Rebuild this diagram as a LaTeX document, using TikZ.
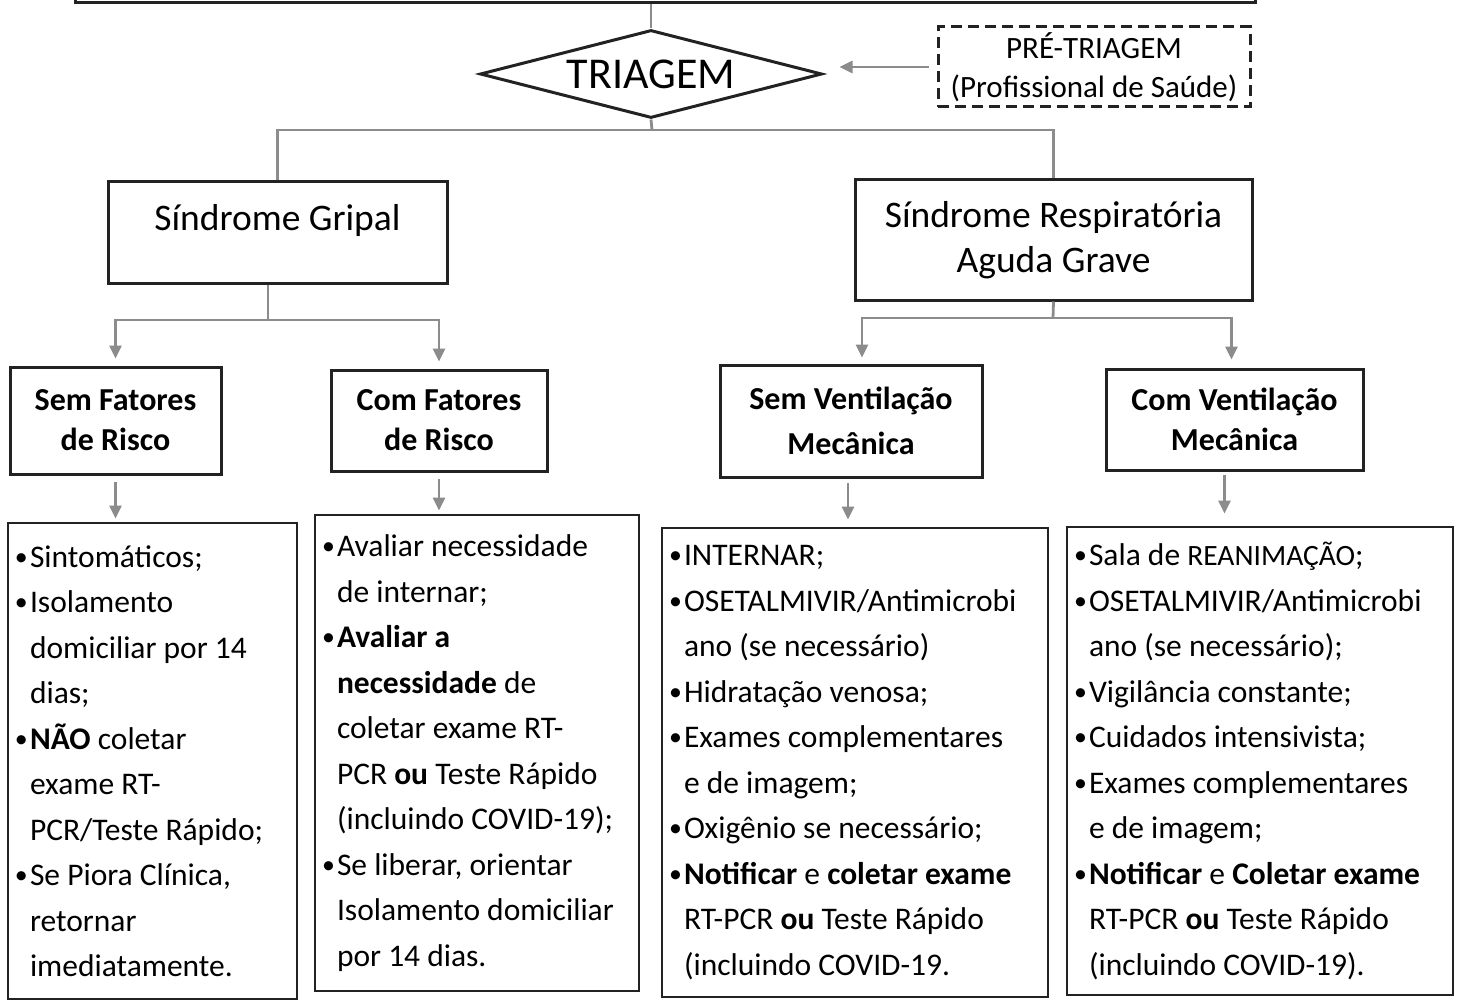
\documentclass[tikz,border=0pt]{standalone}
\usepackage{fontspec}
\setmainfont{Carlito}
\usepackage{graphicx}
\usepackage{tikz}
\usetikzlibrary{arrows.meta, positioning, shapes.geometric}

\definecolor{linkgray}{HTML}{8C8C8C}
\definecolor{boxdark}{HTML}{222222}

\newcommand{\bul}{\makebox[16pt][l]{\hspace*{1pt}\raisebox{0.06em}{\scalebox{0.82}{\textbullet}}}}
\newcommand{\ind}{\hspace*{16pt}}

\begin{document}
\begin{tikzpicture}[x=1pt, y=-1pt,
    headbox/.style={draw=boxdark, line width=3pt, rectangle, align=center, inner sep=0pt},
    listbox/.style={draw=boxdark, line width=2.8pt, rectangle, align=flush left, inner xsep=6pt, inner ysep=0pt,
        font=\fontsize{31.5}{45.5}\selectfont},
    link/.style={draw=linkgray, line width=2.8pt},
    tip/.style={-{Triangle[length=13pt, width=12pt]}}]
    \useasboundingbox (0,0) rectangle (1458,1000);

    % Previous step (cut off at the top)
    \node[draw=boxdark, line width=3pt, minimum width=1180, minimum height=60] (prev) at (665,-27) {};

    % Triagem
    \node[diamond, draw=boxdark, line width=3pt, aspect=3.9, minimum width=342, minimum height=88,
        inner sep=0pt, font=\fontsize{44}{50}\selectfont] (triagem) at (651,74) {TRIAGEM};

    \node[draw=boxdark, line width=3pt, dash pattern=on 11pt off 6pt, minimum width=312, minimum height=80,
        align=center, font=\fontsize{31}{39}\selectfont] (pretri) at (1094,67) {PRÉ-TRIAGEM\\(Profissional de Saúde)};

    % Syndromes
    \node[headbox, minimum width=339, minimum height=101, font=\fontsize{37.5}{45}\selectfont] (gripal) at (277.5,232.5)
        {\raisebox{2pt}[0pt][0pt]{Síndrome Gripal}};
    \node[headbox, minimum width=397, minimum height=120, font=\fontsize{37.5}{45}\selectfont] (srag) at (1053.5,240)
        {Síndrome Respiratória\\Aguda Grave};

    % Risk factors / ventilation
    \node[headbox, minimum width=211, minimum height=107, font=\bfseries\fontsize{32}{40}\selectfont] (semfat) at (115.5,420.5)
        {Sem Fatores\\de Risco};
    \node[headbox, minimum width=216, minimum height=101, font=\bfseries\fontsize{32}{40}\selectfont] (comfat) at (439,420.5)
        {Com Fatores\\de Risco};
    \node[headbox, minimum width=262, minimum height=112, font=\bfseries\fontsize{32}{45}\selectfont] (semvent) at (851,421)
        {Sem Ventilação\\Mecânica};
    \node[headbox, minimum width=257, minimum height=101, font=\bfseries\fontsize{32}{40}\selectfont] (comvent) at (1234.5,419.5)
        {Com Ventilação\\Mecânica};

    % Conducts
    \node[listbox, text width=277, minimum height=476] (list1) at (152.5,761) {
        \bul Sintomáticos;\\
        \bul Isolamento\\
        \ind domiciliar por 14\\
        \ind dias;\\
        \bul \textbf{NÃO} coletar\\
        \ind exame RT-\\
        \ind PCR/Teste Rápido;\\
        \bul Se Piora Clínica,\\
        \ind retornar\\
        \ind imediatamente.};
    \node[listbox, text width=312, minimum height=476] (list2) at (477,753) {
        \bul Avaliar necessidade\\
        \ind de internar;\\
        \bul \textbf{Avaliar a}\\
        \ind \textbf{necessidade} de\\
        \ind coletar exame RT-\\
        \ind PCR \textbf{ou} Teste Rápido\\
        \ind (incluindo COVID-19);\\
        \bul Se liberar, orientar\\
        \ind Isolamento domiciliar\\
        \ind por 14 dias.};
    \node[listbox, text width=374, minimum height=469] (list3) at (855,762.5) {
        \bul INTERNAR;\\
        \bul OSETALMIVIR/Antimicrobi\\
        \ind ano (se necessário)\\
        \bul Hidratação venosa;\\
        \bul Exames complementares\\
        \ind e de imagem;\\
        \bul Oxigênio se necessário;\\
        \bul \textbf{Notificar} e \textbf{coletar exame}\\
        \ind RT-PCR \textbf{ou} Teste Rápido\\
        \ind (incluindo COVID-19.};
    \node[listbox, text width=374, minimum height=468] (list4) at (1260,761) {
        \bul Sala de {\fontsize{29.5}{45.5}\selectfont REANIMAÇÃO};\\
        \bul OSETALMIVIR/Antimicrobi\\
        \ind ano (se necessário);\\
        \bul Vigilância constante;\\
        \bul Cuidados intensivista;\\
        \bul Exames complementares\\
        \ind e de imagem;\\
        \bul \textbf{Notificar} e \textbf{Coletar exame}\\
        \ind RT-PCR \textbf{ou} Teste Rápido\\
        \ind (incluindo COVID-19).};

    % Connectors
    \draw[link] (triagem.north |- prev.south) -- (triagem.north);
    \draw[link, tip, shorten <=8pt, shorten >=16pt] (pretri.west) -- (pretri.west -| triagem.east);

    \coordinate (split1) at (652,130);
    \draw[link] (triagem.south) -- (split1);
    \draw[link] (gripal.north) -- (gripal.north |- split1) -- (srag.north |- split1) -- (srag.north);

    \coordinate (split2) at (268,320);
    \draw[link] (split2 |- gripal.south) -- (split2);
    \draw[link, tip, shorten >=7pt] (split2) -| (semfat.north);
    \draw[link, tip, shorten >=7pt] (split2) -| (comfat.north);

    \coordinate (split3) at (1053,318);
    \draw[link] (srag.south) -- (split3);
    \draw[link, tip, shorten >=6pt] (split3) -| ([xshift=11pt]semvent.north);
    \draw[link, tip, shorten >=8pt] (split3) -| ([xshift=-3pt]comvent.north);

    \draw[link, tip, shorten <=6pt, shorten >=3pt] (semfat.south) -- (semfat.south |- list1.north);
    \draw[link, tip, shorten <=6pt, shorten >=3pt] (comfat.south) -- (comfat.south |- list2.north);
    \draw[link, tip, shorten <=4pt, shorten >=7pt] ([xshift=-3pt]semvent.south) -- ([xshift=-3pt]semvent.south |- list3.north);
    \draw[link, tip, shorten <=3pt, shorten >=12pt] ([xshift=-10pt]comvent.south) -- ([xshift=-10pt]comvent.south |- list4.north);
\end{tikzpicture}
\end{document}
